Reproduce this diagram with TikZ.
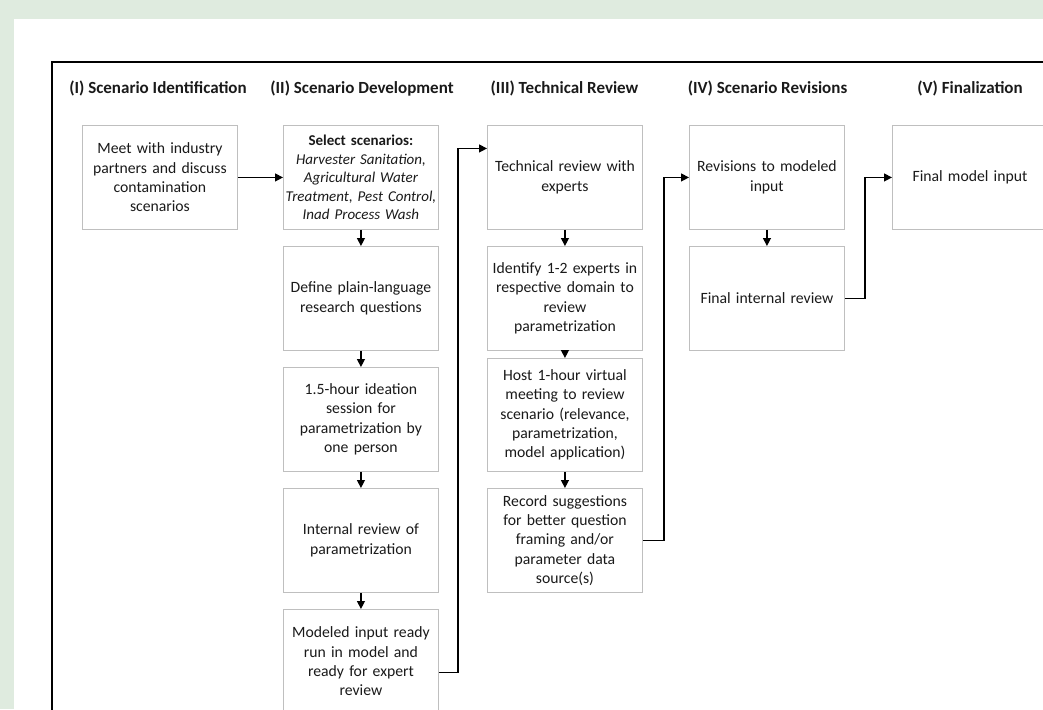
\documentclass[tikz,border=0pt]{standalone}
\usepackage{fontspec}
\setmainfont{Carlito}
\usetikzlibrary{arrows.meta}
\definecolor{bggreen}{HTML}{DFEBDF}
\definecolor{boxgray}{HTML}{BFBFBF}
\definecolor{txt}{HTML}{1A1A1A}
\begin{document}
\begin{tikzpicture}[x=1pt,y=-1pt,
  box/.style={draw=boxgray,line width=0.9pt,fill=white,minimum width=155pt,minimum height=104pt,
    inner sep=0pt,text width=154pt,align=center,anchor=north west,
    font=\fontsize{15.7}{19.3}\selectfont,text=txt},
  hdr/.style={font=\fontsize{17}{20}\selectfont\bfseries,text=txt,inner sep=0pt,anchor=base},
  conn/.style={line width=1.3pt,-{Triangle[length=8pt,width=8pt]}}]
\clip (0,0) rectangle (1043,709);
\fill[bggreen] (0,0) rectangle (1043,709);
\fill[white] (14,19) rectangle (1100,800);
\draw[line width=2pt] (52,62) rectangle (1100,800);
% headers
\node[hdr] (h1) at (158,93) {(I) Scenario Identification};
\node[hdr] (h2) at (362,93) {(II) Scenario Development};
\node[hdr] (h3) at (564.5,93) {(III) Technical Review};
\node[hdr] (h4) at (767.5,93) {(IV) Scenario Revisions};
\node[hdr] (h5) at (970,93) {(V) Finalization};
% column I
\node[box] (b1) at (82,125) {Meet with industry\\partners and discuss\\contamination\\scenarios};
% column II
\node[box,font=\fontsize{15}{18.6}\selectfont] (b2) at (283,125) {\textbf{Select scenarios:}\\\textit{Harvester Sanitation,}\\\textit{Agricultural Water}\\\textit{Treatment, Pest Control,}\\\textit{Inad Process Wash}};
\node[box] (b3) at (283,246) {Define plain-language\\research questions};
\node[box] (b4) at (283,367) {1.5-hour ideation\\session for\\parametrization by\\one person};
\node[box] (b5) at (283,488) {Internal review of\\parametrization};
\node[box] (b6) at (283,609) {Modeled input ready\\run in model and\\ready for expert\\review};
% column III
\node[box] (c1) at (487,125) {Technical review with\\experts};
\node[box] (c2) at (487,246) {Identify 1-2 experts in\\respective domain to\\review\\parametrization};
\node[box,minimum height=113pt] (c3) at (487,358) {Host 1-hour virtual\\meeting to review\\scenario (relevance,\\parametrization,\\model application)};
\node[box] (c4) at (487,488) {Record suggestions\\for better question\\framing and/or\\parameter data\\source(s)};
% column IV
\node[box] (d1) at (689,125) {Revisions to modeled\\input};
\node[box] (d2) at (689,246) {Final internal review};
% column V
\node[box] (e1) at (892,125) {Final model input};
% connectors
\draw[conn] (b1) -- (b2);
\draw[conn] (b2) -- (b3);
\draw[conn] (b3) -- (b4);
\draw[conn] (b4) -- (b5);
\draw[conn] (b5) -- (b6);
\draw[conn] (c1) -- (c2);
\draw[conn] (c2) -- (c3);
\draw[conn] (c3) -- (c4);
\draw[conn] (d1) -- (d2);
\draw[conn] ([yshift=-11pt]b6.east) -- ++(19,0) |- ([yshift=29pt]c1.west);
\draw[conn] (c4.east) -- ++(21,0) |- (d1.west);
\draw[conn] (d2.east) -- ++(20,0) |- (e1.west);
\end{tikzpicture}
\end{document}
